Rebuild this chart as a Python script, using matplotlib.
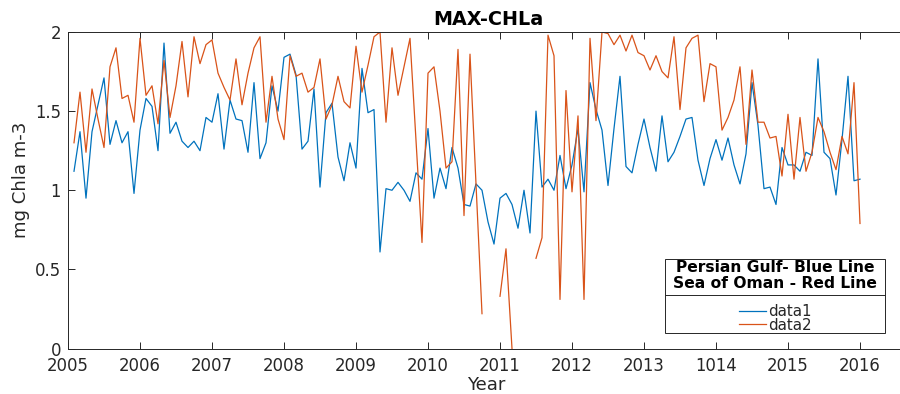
import matplotlib.pyplot as plt
import numpy as np
from matplotlib.lines import Line2D
from matplotlib.patches import Rectangle

# monthly maxima, Feb 2005 .. Jan 2016 (t = 2005 + k/12, k = 1..132)
months = np.arange(1, 133)
years = 2005 + months / 12

persian_gulf = [
    1.12, 1.37, 0.95, 1.37, 1.54, 1.71, 1.29, 1.44, 1.30, 1.37, 0.98, 1.38,
    1.58, 1.53, 1.25, 1.93, 1.36, 1.43, 1.31, 1.27, 1.31, 1.25, 1.46, 1.43,
    1.61, 1.26, 1.57, 1.45, 1.44, 1.24, 1.68, 1.20, 1.30, 1.66, 1.50, 1.84,
    1.86, 1.73, 1.26, 1.31, 1.64, 1.02, 1.49, 1.55, 1.21, 1.06, 1.30, 1.14,
    1.77, 1.49, 1.51, 0.61, 1.01, 1.00, 1.05, 1.00, 0.93, 1.11, 1.07, 1.39,
    0.95, 1.14, 1.01, 1.27, 1.14, 0.91, 0.90, 1.04, 1.00, 0.80, 0.66, 0.95,
    0.98, 0.91, 0.76, 1.00, 0.73, 1.50, 1.02, 1.07, 1.00, 1.22, 1.01, 1.16,
    1.39, 0.99, 1.68, 1.51, 1.38, 1.03, 1.39, 1.72, 1.15, 1.11, 1.29, 1.45,
    1.27, 1.12, 1.47, 1.18, 1.24, 1.34, 1.45, 1.46, 1.19, 1.03, 1.20, 1.32,
    1.19, 1.33, 1.16, 1.04, 1.23, 1.68, 1.41, 1.01, 1.02, 0.91, 1.27, 1.16,
    1.16, 1.12, 1.24, 1.22, 1.83, 1.24, 1.20, 0.97, 1.32, 1.72, 1.06, 1.07,
]

nan = np.nan
sea_of_oman = [
    1.30, 1.62, 1.24, 1.64, 1.45, 1.27, 1.78, 1.90, 1.58, 1.60, 1.43, 1.96,
    1.60, 1.66, 1.42, 1.82, 1.46, 1.66, 1.94, 1.59, 1.97, 1.80, 1.92, 1.95,
    1.74, 1.65, 1.57, 1.83, 1.54, 1.74, 1.90, 1.97, 1.43, 1.72, 1.45, 1.32,
    1.85, 1.72, 1.74, 1.62, 1.65, 1.83, 1.45, 1.54, 1.72, 1.56, 1.52, 1.91,
    1.62, 1.79, 1.97, 2.00, 1.43, 1.90, 1.60, 1.78, 1.96, 1.31, 0.67, 1.74,
    1.78, 1.50, 1.14, 1.18, 1.89, 0.84, 1.86, 1.04, 0.22, nan, nan, 0.33,
    0.63, 0.00, nan, nan, nan, 0.57, 0.70, 1.98, 1.85, 0.31, 1.63, 0.99,
    1.47, 0.31, 1.96, 1.44, 2.00, 1.99, 1.92, 1.98, 1.88, 1.98, 1.87, 1.85,
    1.76, 1.85, 1.75, 1.71, 1.97, 1.51, 1.90, 1.96, 1.98, 1.56, 1.80, 1.78,
    1.38, 1.46, 1.57, 1.78, 1.29, 1.76, 1.43, 1.43, 1.33, 1.34, 1.09, 1.48,
    1.07, 1.46, 1.12, 1.24, 1.46, 1.37, 1.24, 1.13, 1.34, 1.23, 1.68, 0.79,
]

year_ticks = np.arange(2005, 2017)
year_labels = ['2005', '2006', '2007', '2008', '2009', '2010', '2011',
               '2012', '2013', '1014', '2015', '2016']
chl_ticks = [0, 0.5, 1, 1.5, 2]
chl_labels = ['0', '0.5', '1', '1.5', '2']
legend_title = ['Persian Gulf- Blue Line', 'Sea of Oman - Red Line']

axis_color = '#262626'
blue = '#0072BD'
red = '#D95319'

plt.rcParams['font.family'] = 'DejaVu Sans'

W, H = 900, 394
fig = plt.figure(figsize=(W / 100, H / 100), dpi=100)
ax = fig.add_axes([68 / W, 45.5 / H, 840 / W, 316.5 / H])

ax.plot(years, persian_gulf, color=blue, lw=0.9, label='data1')
ax.plot(years, sea_of_oman, color=red, lw=0.9, label='data2')

ax.set_xlim(2005, 2005 + 840 / 72)
ax.set_ylim(0, 2)
ax.set_xticks(year_ticks)
ax.set_xticklabels(year_labels)
ax.set_yticks(chl_ticks)
ax.set_yticklabels(chl_labels)

for s in ax.spines.values():
    s.set_color(axis_color)
    s.set_linewidth(0.7)
ax.spines['right'].set_visible(False)
ax.tick_params(direction='in', length=5, width=0.7, color=axis_color,
               labelcolor=axis_color, labelsize=11.9, top=True, right=False)
ax.tick_params(axis='x', pad=6)
ax.tick_params(axis='y', pad=5)

ax.set_title('MAX-CHLa', fontsize=13.8, fontweight='bold', color='black', pad=5)
ax.set_xlabel('Year', fontsize=13.1, color=axis_color)
ax.set_ylabel('mg Chla m-3', fontsize=13.1, color=axis_color)
ax.xaxis.set_label_coords(0.4976, -0.088)
ax.yaxis.set_label_coords(-0.045, 0.532)


def fx(px):
    return px / W


def fy(py):
    return 1 - py / H


# legend: boxed two-line bold header, a rule, then the two series entries
box_l, box_r, box_t, box_b = 665, 885, 259, 333
fig.add_artist(Rectangle((fx(box_l), fy(box_b)), fx(box_r - box_l),
                         (box_b - box_t) / H, transform=fig.transFigure,
                         facecolor='white', edgecolor=axis_color, lw=0.7,
                         zorder=5))
for line, py in zip(legend_title, [267.5, 283.5]):
    fig.text(fx((box_l + box_r) / 2), fy(py), line, ha='center', va='center',
             fontsize=11.2, fontweight='bold', color='black', zorder=6)
fig.add_artist(Line2D([fx(box_l), fx(box_r)], [fy(295), fy(295)],
                      transform=fig.transFigure, color=axis_color, lw=0.7,
                      zorder=6))

handles, labels = ax.get_legend_handles_labels()
leg = fig.legend(handles, labels, loc='center',
                 bbox_to_anchor=(fx(775), fy(318.5)),
                 bbox_transform=fig.transFigure, frameon=False,
                 fontsize=10.8, handlelength=1.8, handletextpad=0.15,
                 labelspacing=-0.12, borderpad=0, borderaxespad=0)
leg.set_zorder(7)
for t in leg.get_texts():
    t.set_color(axis_color)

fig.savefig('out.png', dpi=100)
